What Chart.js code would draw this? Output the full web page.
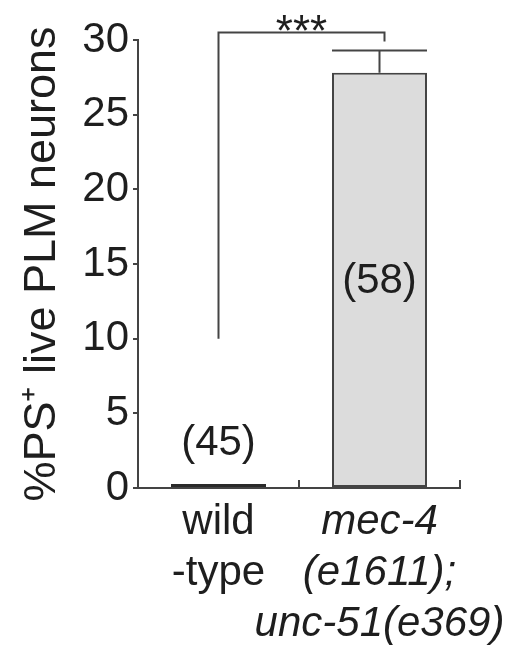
<!DOCTYPE html>
<html>
<head>
<meta charset="utf-8">
<script src="https://cdn.jsdelivr.net/npm/chart.js@4/dist/chart.umd.min.js"></script>
<style>
  html, body { margin: 0; padding: 0; background: #fff; }
  #wrap { width: 505px; height: 648px; }
</style>
</head>
<body>
<div id="wrap"><canvas id="c" width="505" height="648"></canvas></div>
<script>
// data
const categories = [['wild', '-type'], ['mec-4', '(e1611);', 'unc-51(e369)']];
const percentPS = [0, 27.8];
const errors = [0, 1.5];
const counts = ['(45)', '(58)'];
const yTicks = [0, 5, 10, 15, 20, 25, 30];
// significance bracket: left leg ends at 10, right leg at 29.9, top at 30.5
const sigFrom = 10, sigTo = 29.9, sigTop = 30.5, sigLabel = '***';

const FONT = "'Liberation Sans', Arial, sans-serif";
const INK = '#1e1e1e';
const LINE = '#444';

// error bars, counts and bracket drawn on top of the bars
const annotate = {
  id: 'annotate',
  afterDatasetsDraw(chart) {
    const ctx = chart.ctx;
    const y = chart.scales.y;
    const bars = chart.getDatasetMeta(0).data;
    ctx.save();
    ctx.strokeStyle = LINE;
    ctx.lineWidth = 2;

    // error bars (cap as wide as the bar)
    bars.forEach((b, i) => {
      if (!errors[i]) return;
      const top = y.getPixelForValue(percentPS[i] + errors[i]);
      const half = b.width / 2;
      ctx.beginPath();
      ctx.moveTo(b.x, b.y);
      ctx.lineTo(b.x, top);
      ctx.moveTo(b.x - half, top);
      ctx.lineTo(b.x + half, top);
      ctx.stroke();
    });

    // n counts
    ctx.fillStyle = INK;
    ctx.font = '42px ' + FONT;
    ctx.textAlign = 'center';
    ctx.textBaseline = 'middle';
    const countAt = [3, 13.8];
    bars.forEach((b, i) => {
      ctx.fillText(counts[i], b.x, y.getPixelForValue(countAt[i]));
    });

    // bracket
    const x1 = bars[0].x, x2 = bars[1].x + 5;
    const yt = y.getPixelForValue(sigTop);
    ctx.beginPath();
    ctx.moveTo(x1, y.getPixelForValue(sigFrom));
    ctx.lineTo(x1, yt);
    ctx.lineTo(x2, yt);
    ctx.lineTo(x2, y.getPixelForValue(sigTo));
    ctx.stroke();
    ctx.font = '44px ' + FONT;
    ctx.textBaseline = 'alphabetic';
    ctx.fillText(sigLabel, (x1 + x2) / 2, yt + 13);
    ctx.restore();
  }
};

new Chart(document.getElementById('c'), {
  type: 'bar',
  data: {
    labels: categories,
    datasets: [{
      data: percentPS,
      backgroundColor: ['#2a2a2a', '#dcdcdc'],
      borderColor: ['#2a2a2a', LINE],
      borderWidth: 2,
      borderSkipped: false,
      minBarLength: 4,
      barPercentage: 0.59,
      categoryPercentage: 1
    }]
  },
  options: {
    responsive: false,
    animation: false,
    layout: { padding: { top: 40, right: 45, left: 0, bottom: 0 } },
    plugins: { legend: { display: false }, tooltip: { enabled: false } },
    scales: {
      x: {
        grid: { drawOnChartArea: false, tickLength: -8, color: LINE, lineWidth: 2 },
        border: { color: LINE, width: 2 },
        ticks: {
          color: INK,
          padding: 17,
          maxRotation: 0,
          autoSkip: false,
          font: (c) => ({ family: FONT, size: 42, lineHeight: 1.21, style: c.index === 1 ? 'italic' : 'normal' })
        },
        afterFit: (s) => { s.height = 160; s.paddingLeft = 0; s.paddingRight = 0; }
      },
      y: {
        min: 0,
        max: 30,
        afterBuildTicks: (s) => { s.ticks = yTicks.map(v => ({ value: v })); },
        grid: { drawOnChartArea: false, tickLength: 5, color: LINE, lineWidth: 2 },
        border: { color: LINE, width: 2 },
        ticks: { color: INK, padding: 4, font: { family: FONT, size: 42 } },
        title: {
          display: true,
          text: '%PS\u207A live PLM neurons',
          color: INK,
          font: { family: FONT, size: 45 },
          padding: { top: 16, bottom: 0 }
        },
        afterFit: (s) => { s.width = 138; s.paddingTop = 0; s.paddingBottom = 0; }
      }
    }
  },
  plugins: [annotate]
});
</script>
</body>
</html>
